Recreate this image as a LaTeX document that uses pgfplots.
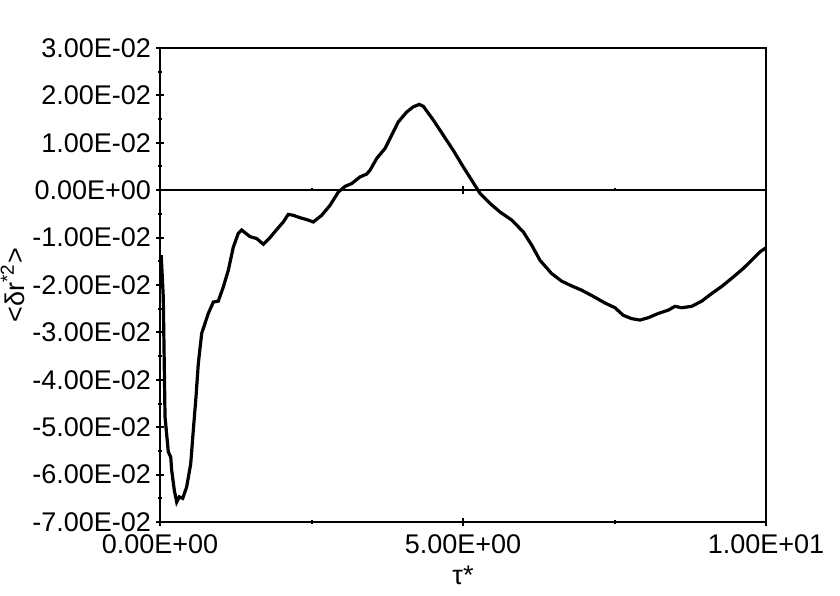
\documentclass[border=0pt]{standalone}
\usepackage{fontspec}
\setmainfont{Liberation Sans}
\usepackage{pgfplots}
\pgfplotsset{compat=1.18}
\usetikzlibrary{calc}

\begin{document}
\begin{tikzpicture}
\begin{axis}[
  scale only axis, width=303pt, height=237pt,
  xmin=0, xmax=10, ymin=-0.07, ymax=0.03,
  xtick={0,5,10}, xticklabels={0.00E+00,5.00E+00,1.00E+01},
  ytick={-0.07,-0.06,-0.05,-0.04,-0.03,-0.02,-0.01,0,0.01,0.02,0.03},
  yticklabels={-7.00E-02,-6.00E-02,-5.00E-02,-4.00E-02,-3.00E-02,-2.00E-02,-1.00E-02,0.00E+00,1.00E-02,2.00E-02,3.00E-02},
  minor x tick num=1, minor y tick num=1,
  xtick pos=bottom, ytick pos=left,
  tick align=center, major tick length=4pt, minor tick length=2pt,
  tick style={black, line width=1pt},
  axis line style={line width=1.2pt},
  scaled y ticks=false,
  tick label style={font=\fontsize{13.5}{15}\selectfont},
  yticklabel style={xshift=1pt},
  xticklabel style={yshift=-1pt},
  label style={font=\fontsize{13.5}{15}\selectfont},
  xlabel={τ*}, ylabel={<δr\textsuperscript{*2}>},
  xlabel style={yshift=1pt},
  ylabel style={yshift=-3pt},
]
\addplot[black, line width=1.6pt] coordinates {
(0.02,-0.0137) (0.054,-0.0225) (0.083,-0.0478) (0.137,-0.0552) (0.177,-0.0563)
(0.193,-0.0591) (0.236,-0.0633) (0.276,-0.0658) (0.318,-0.0647) (0.375,-0.065)
(0.44,-0.0626) (0.507,-0.0577) (0.55,-0.0506) (0.594,-0.0436) (0.632,-0.0366)
(0.688,-0.0302) (0.743,-0.0281) (0.797,-0.026) (0.88,-0.0236) (0.962,-0.0234)
(1.045,-0.0204) (1.127,-0.0169) (1.21,-0.012) (1.292,-0.0091) (1.348,-0.0084)
(1.485,-0.0098) (1.596,-0.0102) (1.705,-0.0114) (1.815,-0.0100) (1.926,-0.0083)
(2.035,-0.0067) (2.117,-0.0051) (2.2,-0.0053) (2.31,-0.0058) (2.42,-0.0062)
(2.53,-0.0067) (2.668,-0.0053) (2.805,-0.0032) (2.942,-0.0004) (3.053,0.0008)
(3.163,0.0014) (3.3,0.0028) (3.41,0.0034) (3.465,0.0042) (3.576,0.0067)
(3.713,0.0088) (3.823,0.0116) (3.932,0.0144) (4.071,0.0165) (4.18,0.0176)
(4.279,0.0181) (4.345,0.0177) (4.51,0.0148) (4.675,0.0116) (4.84,0.0084)
(5.005,0.0049) (5.144,0.0021) (5.281,-0.0007) (5.446,-0.0028) (5.611,-0.0046)
(5.804,-0.0063) (5.995,-0.0088) (6.134,-0.0116) (6.271,-0.0148) (6.464,-0.0176)
(6.629,-0.0192) (6.794,-0.0202) (6.959,-0.0211) (7.15,-0.0224) (7.343,-0.0238)
(7.508,-0.0248) (7.645,-0.0264) (7.784,-0.0271) (7.921,-0.0274) (8.058,-0.0269)
(8.223,-0.026) (8.388,-0.0253) (8.498,-0.0245) (8.609,-0.0248) (8.774,-0.0245)
(8.939,-0.0234) (9.104,-0.0218) (9.27,-0.0203) (9.461,-0.0183) (9.626,-0.0165)
(9.791,-0.0144) (9.901,-0.013) (9.995,-0.0122)
};
% zero line with its small ticks
\draw[line width=1pt] (axis cs:0,0) -- (axis cs:10,0);
\draw[line width=1pt] (axis cs:5,-0.0008) -- (axis cs:5,0.0008);
\draw[line width=1pt] (axis cs:2.5,0) -- (axis cs:2.5,0.0005);
\draw[line width=1pt] (axis cs:7.5,0) -- (axis cs:7.5,0.0005);
\end{axis}
\pgfresetboundingbox
\path ($(current axis.south west)+(-80pt,-36.5pt)$) rectangle ($(current axis.north east)+(37pt,24pt)$);
\end{tikzpicture}
\end{document}
